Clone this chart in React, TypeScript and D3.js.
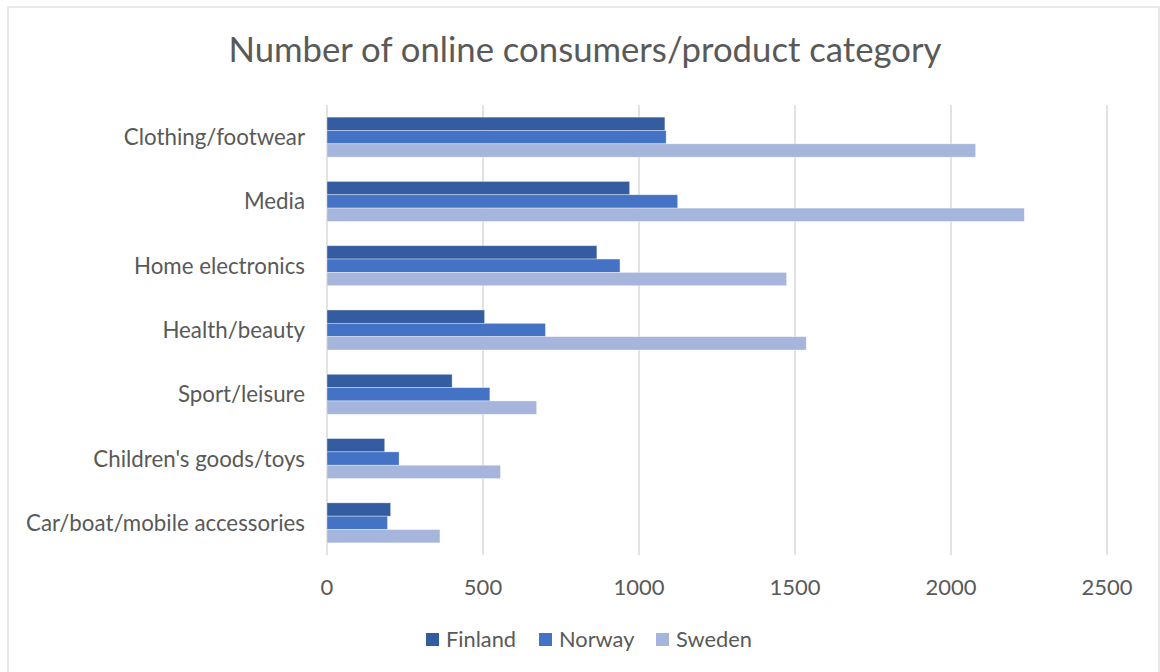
import React from 'react'
import * as d3 from 'd3'

const categories = [
  'Clothing/footwear',
  'Media',
  'Home electronics',
  'Health/beauty',
  'Sport/leisure',
  "Children's goods/toys",
  'Car/boat/mobile accessories',
]
const seriesNames = ['Finland', 'Norway', 'Sweden']
const finland = [1083, 970, 865, 505, 401, 185, 204]
const norway = [1087, 1124, 939, 700, 522, 231, 194]
const sweden = [2079, 2235, 1473, 1536, 672, 556, 362]
const xTicks = [0, 500, 1000, 1500, 2000, 2500]

const colors = ['#345DA1', '#4472C4', '#A6B5DB']
const font = 'Lato, "Open Sans", sans-serif'
const textColor = '#595959'

export default function App() {
  const width = 1160
  const height = 672
  const plot = { left: 327, right: 1107, top: 105, bottom: 555 }

  const values = [finland, norway, sweden]

  const x = d3.scaleLinear().domain([0, 2500]).range([plot.left, plot.right])
  const y = d3.scaleBand().domain(categories).range([plot.top, plot.bottom]).padding(0)
  const inner = d3
    .scaleBand()
    .domain(seriesNames)
    .range([0, y.bandwidth()])
    .paddingInner(0)
    .paddingOuter(0.91)

  return (
    <svg
      width={width}
      height={height}
      style={{ position: 'absolute', left: 0, top: 0 }}
      fontFamily={font}
    >
      <rect x={0} y={0} width={width} height={height} fill="#fff" />
      <rect x={8} y={7} width={1151} height={680} fill="#fff" stroke="#D9D9D9" strokeWidth={1.2} />

      <text x={585} y={62} textAnchor="middle" fontSize={34.7} fill={textColor}>
        Number of online consumers/product category
      </text>

      {/* gridlines */}
      {xTicks.map((t) => (
        <line
          key={t}
          x1={x(t)}
          x2={x(t)}
          y1={plot.top}
          y2={plot.bottom}
          stroke="#D9D9D9"
          strokeWidth={1.5}
        />
      ))}

      {/* bars */}
      {categories.map((c, ci) => (
        <g key={c} transform={`translate(0,${y(c)})`}>
          {seriesNames.map((s, si) => (
            <rect
              key={s}
              x={x(0)}
              y={inner(s)}
              width={x(values[si][ci]) - x(0)}
              height={inner.bandwidth()}
              fill={colors[si]}
              stroke="#ffffff"
              strokeOpacity={0.5}
              strokeWidth={0.7}
            />
          ))}
        </g>
      ))}

      {/* category labels */}
      {categories.map((c) => (
        <text
          key={c}
          x={305}
          y={(y(c) || 0) + y.bandwidth() / 2 + 8}
          textAnchor="end"
          fontSize={22.3}
          fill={textColor}
        >
          {c}
        </text>
      ))}

      {/* x tick labels */}
      {xTicks.map((t) => (
        <text key={t} x={x(t)} y={595} textAnchor="middle" fontSize={22} fill={textColor}>
          {t}
        </text>
      ))}

      {/* legend */}
      {seriesNames.map((s, i) => {
        const lx = [426, 539, 656][i]
        return (
          <g key={s}>
            <rect x={lx} y={633} width={13} height={13} fill={colors[i]} />
            <text x={lx + 20} y={647} fontSize={21.8} fill={textColor}>
              {s}
            </text>
          </g>
        )
      })}
    </svg>
  )
}
